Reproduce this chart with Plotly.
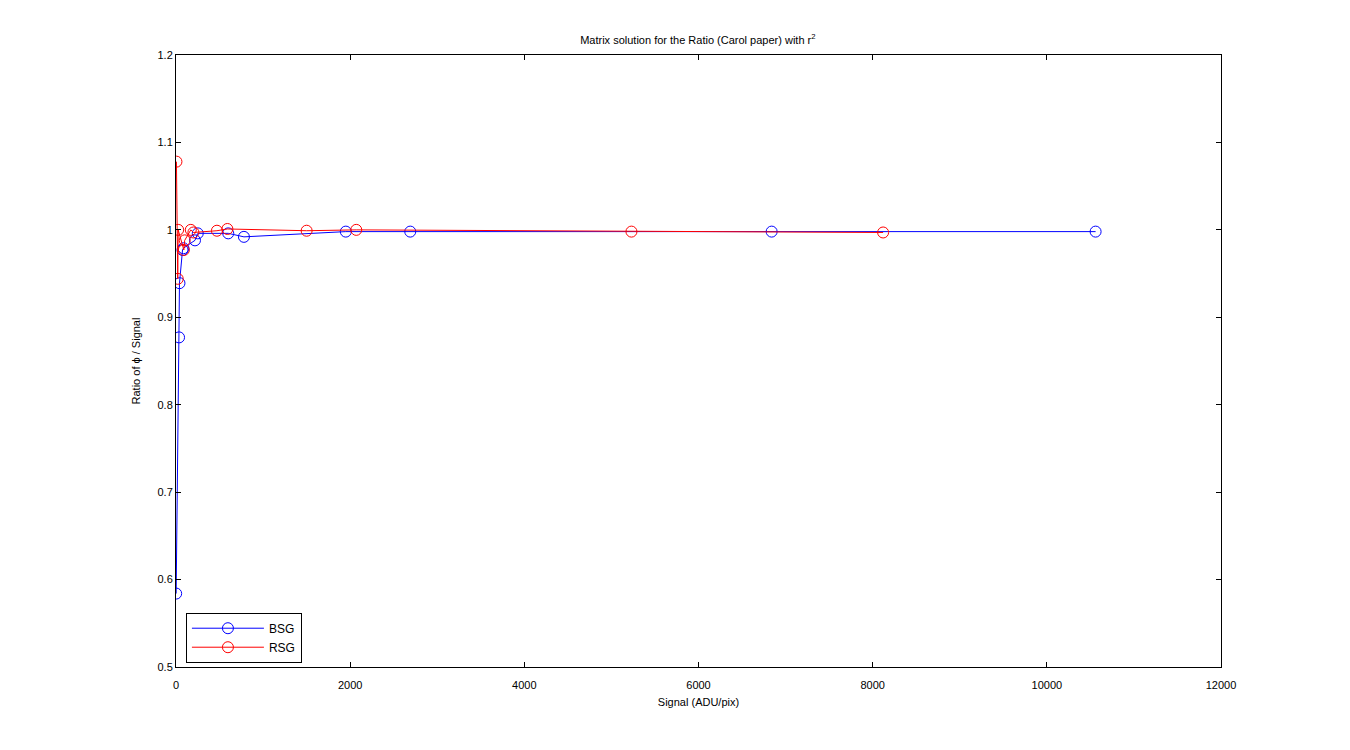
import plotly.graph_objects as go

# BSG series
bsg_x = [2, 35, 40, 75, 85, 218, 250, 600, 780, 1950, 2690, 6840, 10560]
bsg_y = [0.584, 0.877, 0.939, 0.977, 0.979, 0.988, 0.996, 0.996, 0.992, 0.998, 0.998, 0.998, 0.998]

# RSG series
rsg_x = [5, 20, 25, 90, 100, 170, 200, 470, 590, 1500, 2070, 5230, 8120]
rsg_y = [1.078, 0.944, 1.0, 0.977, 0.988, 1.0, 0.997, 0.999, 1.001, 0.999, 1.0, 0.998, 0.997]

x_ticks = [0, 2000, 4000, 6000, 8000, 10000, 12000]
y_ticks = [0.5, 0.6, 0.7, 0.8, 0.9, 1.0, 1.1, 1.2]
y_tick_text = ["0.5", "0.6", "0.7", "0.8", "0.9", "1", "1.1", "1.2"]

font = dict(family="Liberation Sans, Arial, sans-serif", size=11, color="black")

fig = go.Figure()
fig.add_trace(go.Scatter(
    x=bsg_x, y=bsg_y, name="BSG", mode="lines+markers",
    line=dict(color="#0000FF", width=1),
    marker=dict(symbol="circle-open", size=11, color="#0000FF", line=dict(width=1)),
))
fig.add_trace(go.Scatter(
    x=rsg_x, y=rsg_y, name="RSG", mode="lines+markers",
    line=dict(color="#FF0000", width=1),
    marker=dict(symbol="circle-open", size=11, color="#FF0000", line=dict(width=1)),
))

axis_common = dict(
    showline=True, linecolor="black", linewidth=1, mirror="ticks",
    ticks="inside", ticklen=5, tickcolor="black", tickwidth=1,
    showgrid=False, zeroline=False, tickfont=font,
)

fig.update_layout(
    width=1350, height=750,
    margin=dict(l=168, r=137, t=47, b=91),
    paper_bgcolor="white", plot_bgcolor="white",
    font=font,
    title=dict(text="Matrix solution for the Ratio (Carol paper) with r<sup>2</sup>",
               x=0.511, xanchor="center", y=0.957, yanchor="middle",
               font=dict(family="Liberation Sans, Arial, sans-serif", size=11, color="black")),
    xaxis=dict(range=[0, 12000], tickvals=x_ticks, tickformat="d", ticklabelstandoff=8,
               title=dict(text="Signal (ADU/pix)", font=font, standoff=8), **axis_common),
    yaxis=dict(range=[0.5, 1.2], tickvals=y_ticks, ticktext=y_tick_text,
               title=dict(text="Ratio of ϕ / Signal", font=font, standoff=14), **axis_common),
    legend=dict(x=0.0095, y=0.007, xanchor="left", yanchor="bottom",
                bordercolor="black", borderwidth=1, bgcolor="white",
                font=dict(family="Liberation Sans, Arial, sans-serif", size=12, color="black"),
                itemwidth=72, tracegroupgap=0),
    showlegend=True,
)

fig.write_html("out.html")
